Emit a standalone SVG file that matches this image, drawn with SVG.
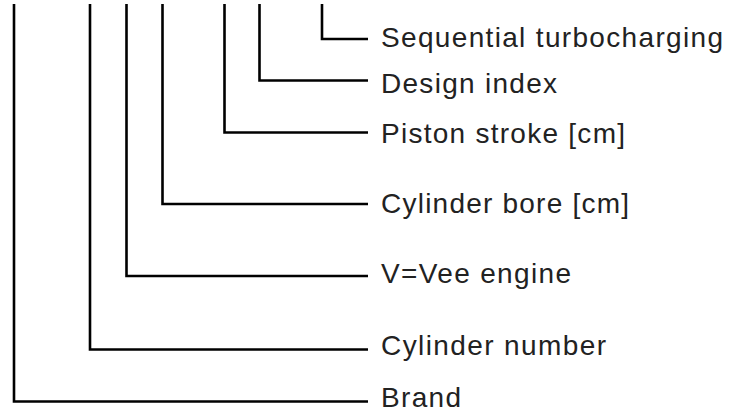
<svg xmlns="http://www.w3.org/2000/svg" width="732" height="414" viewBox="0 0 732 414">
<style>
.c{fill:none;stroke:#000;stroke-width:2.6;stroke-linejoin:miter;stroke-linecap:butt}
.t{font-family:"Liberation Sans",Arial,Helvetica,sans-serif;font-size:28px;fill:#222}
</style>
<rect width="732" height="414" fill="#fff"/>
<g id="connectors">
<polyline class="c" points="322,4 322,39 368,39"/>
<polyline class="c" points="259.5,4 259.5,80.5 368,80.5"/>
<polyline class="c" points="224.5,4 224.5,132.5 368,132.5"/>
<polyline class="c" points="162.5,4 162.5,204 368,204"/>
<polyline class="c" points="126.5,4 126.5,276 368,276"/>
<polyline class="c" points="90,4 90,349.5 368,349.5"/>
<polyline class="c" points="14,4 14,401.5 368,401.5"/>
</g>
<g id="n-seq"><text class="t" x="381" y="46.7" textLength="342" lengthAdjust="spacing">Sequential turbocharging</text></g>
<g id="n-design"><text class="t" x="381" y="92.7" textLength="176" lengthAdjust="spacing">Design index</text></g>
<g id="n-stroke"><text class="t" x="381" y="142.7" textLength="244" lengthAdjust="spacing">Piston stroke [cm]</text></g>
<g id="n-bore"><text class="t" x="381" y="213.3" textLength="248" lengthAdjust="spacing">Cylinder bore [cm]</text></g>
<g id="n-vee"><text class="t" x="381" y="283.3" textLength="190" lengthAdjust="spacing">V=Vee engine</text></g>
<g id="n-cyl"><text class="t" x="381" y="355" textLength="225" lengthAdjust="spacing">Cylinder number</text></g>
<g id="n-brand"><text class="t" x="381" y="407" textLength="80" lengthAdjust="spacing">Brand</text></g>
</svg>
